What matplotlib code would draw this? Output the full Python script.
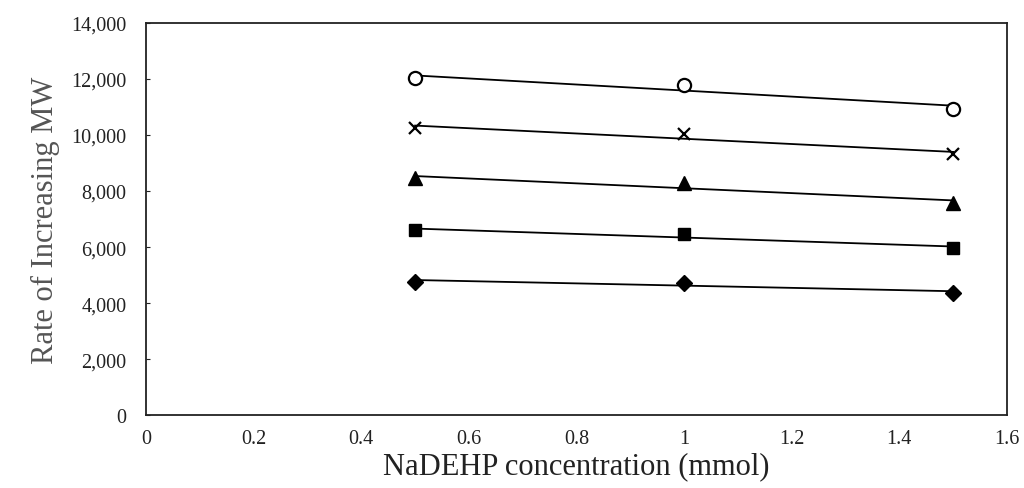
import numpy as np
import matplotlib.pyplot as plt

plt.rcParams['font.family'] = ['Liberation Serif', 'DejaVu Serif']

conc = [0.5, 1.0, 1.5]
circle_vals = [12020, 11800, 10940]
cross_vals = [10250, 10040, 9310]
tri_vals = [8450, 8270, 7580]
square_vals = [6600, 6460, 5960]
diamond_vals = [4770, 4730, 4370]

series = [
    (circle_vals, 'o', 'white', 9.5),
    (cross_vals, 'x', 'black', 9),
    (tri_vals, '^', 'black', 9.5),
    (square_vals, 's', 'black', 9),
    (diamond_vals, 'D', 'black', 8),
]

fig = plt.figure(figsize=(10.24, 4.89), dpi=100)
ax = fig.add_axes([0.1426, 0.149, 0.8408, 0.802])

x = np.array(conc)
for vals, mk, fc, ms in series:
    # linear trendline over the data range
    k, b = np.polyfit(x, vals, 1)
    ax.plot(x, k * x + b, color='black', lw=1.3, zorder=2)
    ax.plot(x, vals, linestyle='none', marker=mk, ms=ms, mfc=fc, mec='black',
            mew=1.6 if mk in ('o', 'x') else 1, zorder=3)

ax.set_xlim(0, 1.6)
ax.set_ylim(0, 14000)
ax.set_xticks([0, 0.2, 0.4, 0.6, 0.8, 1, 1.2, 1.4, 1.6])
ax.set_xticklabels(['0', '0.2', '0.4', '0.6', '0.8', '1', '1.2', '1.4', '1.6'])
ax.set_yticks(range(0, 14001, 2000))
ax.set_yticklabels(['{:,}'.format(v) for v in range(0, 14001, 2000)])
ax.tick_params(axis='both', labelsize=14.5, direction='in', length=3, colors='#222222')
ax.tick_params(axis='x', length=0, pad=10)
ax.tick_params(axis='y', pad=14)
for s in ax.spines.values():
    s.set_linewidth(1.3)
    s.set_color('#222222')

ax.set_xlabel('NaDEHP concentration (mmol)', fontsize=22, color='#222222', labelpad=2)
ax.set_ylabel('Rate of Increasing MW', fontsize=22, color='#555555', labelpad=8)

fig.savefig('out.png', dpi=100)
